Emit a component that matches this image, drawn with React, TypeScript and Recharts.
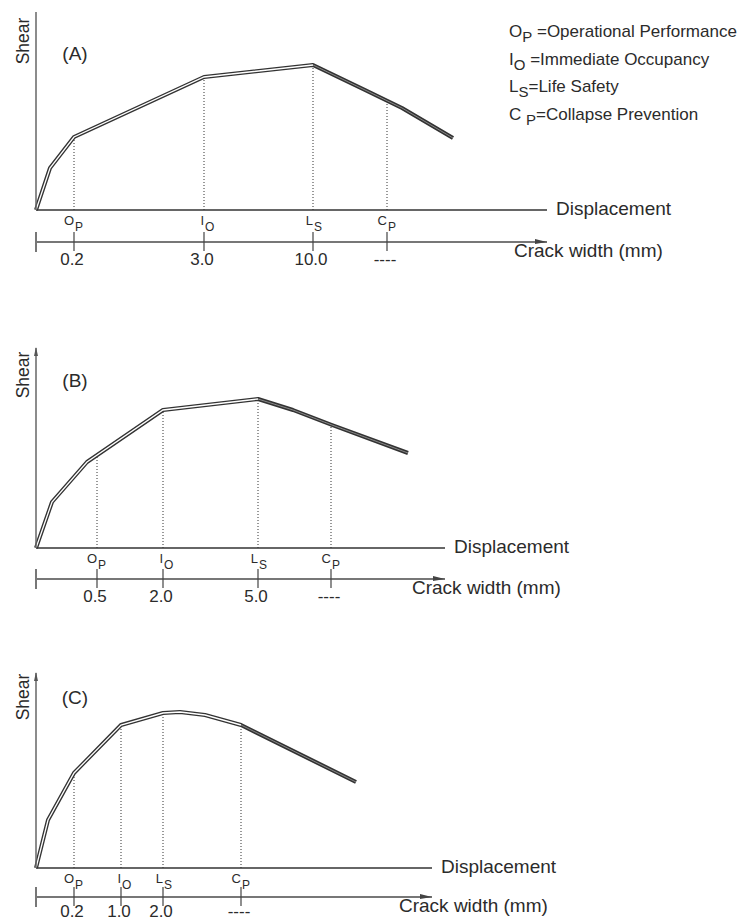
import React from 'react'
import { LineChart, Line, XAxis, YAxis, ReferenceLine } from 'recharts'

const FONT = '"Liberation Sans", Arial, Helvetica, sans-serif'
const INK = '#2b2b2b'

// limit states (tick labels on the displacement axis)
const stateMain = ['O', 'I', 'L', 'C']
const stateSub = ['P', 'O', 'S', 'P']

// legend
const legendKey = ['O', 'I', 'L', 'C ']
const legendSub = ['P', 'O', 'S', 'P']
const legendText = [' =Operational Performance', ' =Immediate Occupancy', '=Life Safety', '=Collapse Prevention']

// panel (A)
const dispA = [0, 14, 38, 168, 277, 329, 366, 417]
const shearA = [0, 42, 73, 133, 145, 120, 102, 72]
const markDispA = [38, 168, 277, 351]
const markShearA = [73, 133, 145, 107]
const crackA = ['0.2', '3.0', '10.0', '----']

// panel (B)
const dispB = [0, 16, 51, 127, 222, 257, 296, 372]
const shearB = [0, 46, 86, 138, 149, 138, 123, 95]
const markDispB = [61, 127, 222, 295]
const markShearB = [93, 138, 149, 123]
const crackB = ['0.5', '2.0', '5.0', '----']

// panel (C)
const dispC = [0, 12, 38, 85, 127, 144, 169, 205, 320]
const shearC = [0, 48, 95, 143, 155, 156, 153, 143, 86]
const markDispC = [38, 85, 127, 205]
const markShearC = [95, 143, 155, 143]
const crackC = ['0.2', '1.0', '2.0', '----']

interface PanelProps {
  disp: number[]
  shear: number[]
  markDisp: number[]
  markShear: number[]
  crack: string[]
  xMax: number
  yMax: number
  letter: string
  top: number
  height: number
  marginTop: number
  dispHeight: number
  crackHeight: number
  valueDy: number
  shearDy: number
  letterDy: number
  arrow: boolean
  innerEnd: number
}

function StateTick(props: any) {
  const { x, y, index } = props
  return (
    <g fontFamily={FONT} fill={INK}>
      <text x={x} y={y + 15} textAnchor="end" fontSize={13}>{stateMain[index]}</text>
      <text x={x + 1} y={y + 21} textAnchor="start" fontSize={12}>{stateSub[index]}</text>
    </g>
  )
}

function Panel(p: PanelProps) {
  const points = p.disp.map((x, i) => ({ x, y: p.shear[i] }))
  const crackTicks = [0, ...p.markDisp]

  const crackTick = (props: any) => {
    const { x, y, index } = props
    if (index === 0) {
      return <line x1={x} x2={x} y1={y - 10} y2={y + 10} stroke="#777" strokeWidth={2} />
    }
    return (
      <g>
        <line x1={x} x2={x} y1={y - 10} y2={y + 9} stroke="#444" strokeWidth={1.2} />
        <text x={x - 2} y={y + p.valueDy} textAnchor="middle" fontSize={17} fontFamily={FONT} fill={INK}>
          {p.crack[index - 1]}
        </text>
      </g>
    )
  }

  const dispLabel = (props: any) => {
    const { x, y, width } = props.viewBox
    return (
      <text x={x + width + 9} y={y - 2} dominantBaseline="central" fontSize={19} fontFamily={FONT} fill={INK}>
        Displacement
      </text>
    )
  }

  const crackLabel = (props: any) => {
    const { x, y, width } = props.viewBox
    const end = x + width
    return (
      <g>
        <polygon points={`${end},${y} ${end - 12},${y - 3} ${end - 12},${y + 2}`} fill="#444" />
        <text x={end - 33} y={y + 8} dominantBaseline="central" fontSize={19} fontFamily={FONT} fill={INK}>
          Crack width (mm)
        </text>
      </g>
    )
  }

  const yLabel = (props: any) => {
    const { x, y, width } = props.viewBox
    const ax = x + width
    return (
      <g fontFamily={FONT} fill={INK}>
        <text
          x={ax - 13}
          y={y + p.shearDy}
          transform={`rotate(-90 ${ax - 13} ${y + p.shearDy})`}
          textAnchor="middle"
          dominantBaseline="central"
          fontSize={17.5}
        >
          Shear
        </text>
        <text x={ax + 39} y={y + p.letterDy} textAnchor="middle" dominantBaseline="central" fontSize={19}>
          {p.letter}
        </text>
        {p.arrow && <polygon points={`${ax},${y - 1} ${ax - 2},${y + 8} ${ax + 2},${y + 8}`} fill="#555" />}
      </g>
    )
  }

  return (
    <div style={{ position: 'absolute', left: 0, top: p.top }}>
      <LineChart
        width={739}
        height={p.height}
        data={points}
        margin={{ top: p.marginTop, right: 739 - 36 - p.xMax, bottom: 0, left: 35 }}
      >
        <XAxis
          xAxisId="b"
          type="number"
          dataKey="x"
          domain={[0, p.xMax]}
          ticks={crackTicks}
          interval={0}
          height={p.crackHeight}
          tickSize={0}
          tickMargin={0}
          tickLine={false}
          axisLine={{ stroke: '#777', strokeWidth: 2 }}
          tick={crackTick}
          label={crackLabel}
        />
        <XAxis
          xAxisId="a"
          type="number"
          dataKey="x"
          domain={[0, p.xMax]}
          ticks={p.markDisp}
          interval={0}
          height={p.dispHeight}
          tickSize={0}
          tickMargin={0}
          tickLine={false}
          axisLine={{ stroke: '#333', strokeWidth: 1.3 }}
          tick={<StateTick />}
          label={dispLabel}
        />
        <YAxis
          yAxisId="s"
          type="number"
          domain={[0, p.yMax]}
          width={1}
          tick={false}
          tickLine={false}
          axisLine={{ stroke: '#666', strokeWidth: 1.5 }}
          label={yLabel}
        />
        {p.markDisp.map((mx, i) => (
          <ReferenceLine
            key={i}
            xAxisId="a"
            yAxisId="s"
            segment={[{ x: mx, y: 0 }, { x: mx, y: p.markShear[i] }]}
            stroke="#333"
            strokeWidth={1}
            strokeDasharray="1 2"
          />
        ))}
        <Line
          xAxisId="a"
          yAxisId="s"
          dataKey="y"
          type="linear"
          stroke="#333"
          strokeWidth={4}
          strokeLinejoin="round"
          dot={false}
          isAnimationActive={false}
        />
        <Line
          xAxisId="a"
          yAxisId="s"
          data={points.slice(p.innerEnd)}
          dataKey="y"
          type="linear"
          stroke="#888"
          strokeWidth={1}
          dot={false}
          isAnimationActive={false}
        />
        <Line
          xAxisId="a"
          yAxisId="s"
          data={points.slice(0, p.innerEnd + 1)}
          dataKey="y"
          type="linear"
          stroke="#fff"
          strokeWidth={1.3}
          dot={false}
          isAnimationActive={false}
        />
      </LineChart>
    </div>
  )
}

function LegendBox() {
  return (
    <div
      style={{
        position: 'absolute',
        left: 509,
        top: 18,
        fontFamily: FONT,
        fontSize: 17,
        color: INK,
        whiteSpace: 'pre',
      }}
    >
      {legendKey.map((k, i) => (
        <div key={i} style={{ height: 27.5, lineHeight: '27.5px' }}>
          <span>{k}</span>
          <span style={{ position: 'relative', top: 5, fontSize: 15 }}>{legendSub[i]}</span>
          <span>{legendText[i]}</span>
        </div>
      ))}
    </div>
  )
}

export default function App() {
  return (
    <div style={{ position: 'absolute', left: 0, top: 0, width: 739, height: 923, background: '#fff', overflow: 'hidden' }}>
      <Panel
        disp={dispA} shear={shearA} markDisp={markDispA} markShear={markShearA} crack={crackA}
        xMax={511} yMax={198} letter="(A)" top={0} height={272} marginTop={12} dispHeight={32} crackHeight={30}
        valueDy={23} shearDy={29} letterDy={41} arrow={false} innerEnd={4}
      />
      <Panel
        disp={dispB} shear={shearB} markDisp={markDispB} markShear={markShearB} crack={crackB}
        xMax={409} yMax={200} letter="(B)" top={330} height={280} marginTop={18} dispHeight={31} crackHeight={31}
        valueDy={23} shearDy={27} letterDy={32} arrow={true} innerEnd={4}
      />
      <Panel
        disp={dispC} shear={shearC} markDisp={markDispC} markShear={markShearC} crack={crackC}
        xMax={396} yMax={195} letter="(C)" top={660} height={263} marginTop={13} dispHeight={29} crackHeight={26}
        valueDy={20} shearDy={24} letterDy={24} arrow={true} innerEnd={7}
      />
      <LegendBox />
    </div>
  )
}
